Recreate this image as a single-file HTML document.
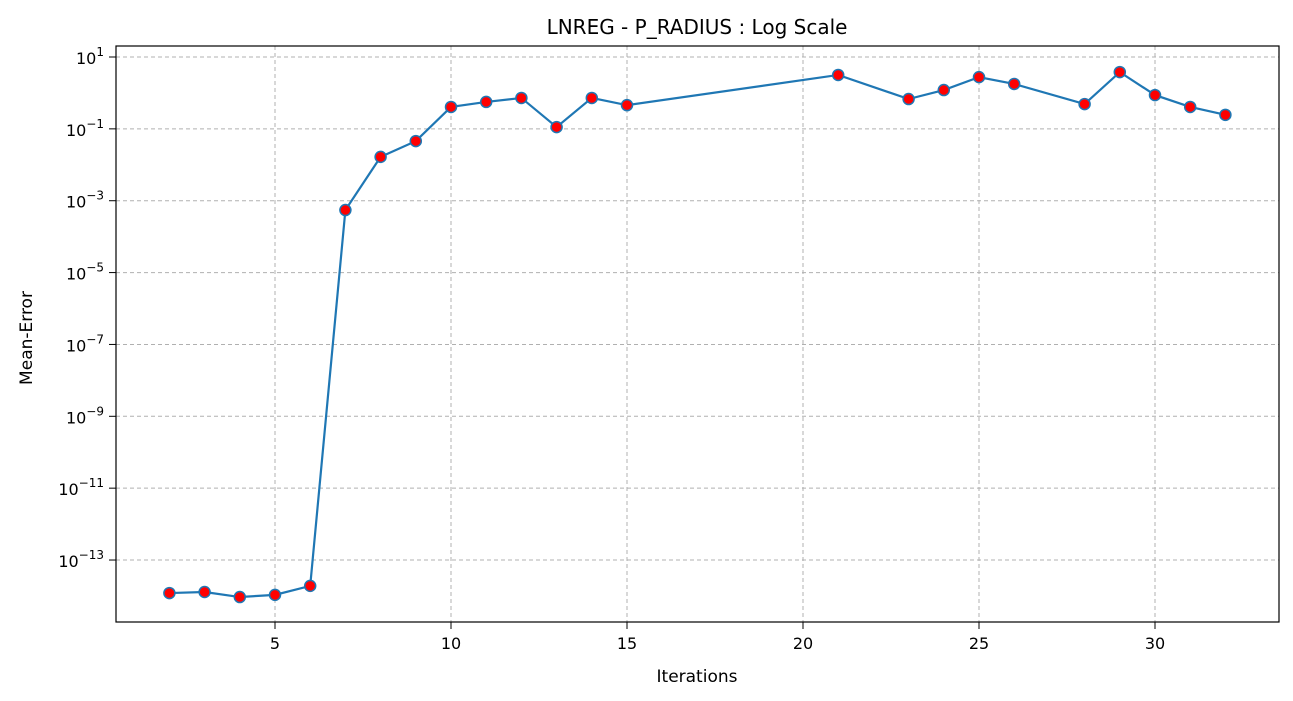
<!DOCTYPE html>
<html><head><meta charset="utf-8">
<style>
html,body{margin:0;padding:0;background:#fff;}
svg{display:block;font-family:"DejaVu Sans","Liberation Sans",sans-serif;}
</style></head>
<body>
<svg id="chart" width="1293" height="701" viewBox="0 0 1293 701">
<text x="697" y="34" font-size="20" text-anchor="middle">LNREG - P_RADIUS : Log Scale</text>
<g id="grid"></g>
<g id="axes"></g>
<g id="series"></g>
<rect x="116" y="46" width="1163" height="576" fill="none" stroke="#000" stroke-width="1.2"/>
<text x="697" y="682" font-size="17" text-anchor="middle">Iterations</text>
<text x="32" y="338" font-size="17" text-anchor="middle" transform="rotate(-90 32 338)">Mean-Error</text>
</svg>
<script>
const iterations = [2,3,4,5,6,7,8,9,10,11,12,13,14,15,21,23,24,25,26,28,29,30,31,32];
const logErrors = [-13.92,-13.89,-14.03,-13.97,-13.72,-3.26,-1.78,-1.34,-0.39,-0.25,-0.14,-0.95,-0.14,-0.34,0.50,-0.17,0.08,0.44,0.25,-0.31,0.58,-0.06,-0.39,-0.61];
const xTicks = [5,10,15,20,25,30];
const yTickExps = [1,-1,-3,-5,-7,-9,-11,-13];

const NS = "http://www.w3.org/2000/svg";
const xs = v => 275 + (v - 5) * 35.2;
const ys = e => 57 + (1 - e) * 35.93;
function mk(tag, attrs, parent){ const el=document.createElementNS(NS,tag); for(const k in attrs) el.setAttribute(k,attrs[k]); parent.appendChild(el); return el; }
const grid=document.getElementById('grid'), axes=document.getElementById('axes'), series=document.getElementById('series');

xTicks.forEach(t=>{
  const x=xs(t);
  const g=mk('line',{x1:x,x2:x,y1:46,y2:622,stroke:'#b0b0b0','stroke-dasharray':'4,3','stroke-width':1},grid);
  
  
  const tk=mk('line',{x1:x,x2:x,y1:622,y2:629,stroke:'#000'},axes);
  
  
  const tx=mk('text',{x:x,y:649,'font-size':16,'text-anchor':'middle'},axes);
  tx.textContent=t;
  
  
});
yTickExps.forEach(e=>{
  const y=ys(e);
  const g=mk('line',{x1:116,x2:1279,y1:y,y2:y,stroke:'#b0b0b0','stroke-dasharray':'4,3','stroke-width':1},grid);
  
  
  const tk=mk('line',{x1:109,x2:116,y1:y,y2:y,stroke:'#000'},axes);
  
  
  const tx=mk('text',{x:104,y:y+7,'font-size':16,'text-anchor':'end'},axes);
  tx.innerHTML='10<tspan dy="-8" font-size="12">'+(e<0?'\u2212'+(-e):e)+'</tspan>';
  
  
});
const pts=iterations.map((v,i)=>xs(v)+','+ys(logErrors[i])).join(' ');
const line=mk('polyline',{points:pts,fill:'none',stroke:'#1f77b4','stroke-width':2.2},series);


iterations.forEach((v,i)=>{
  const c=mk('circle',{cx:xs(v),cy:ys(logErrors[i]),r:5.5,fill:'#ff0000',stroke:'#1f77b4','stroke-width':1.5},series);
  
  
});
</script>
</body></html>
